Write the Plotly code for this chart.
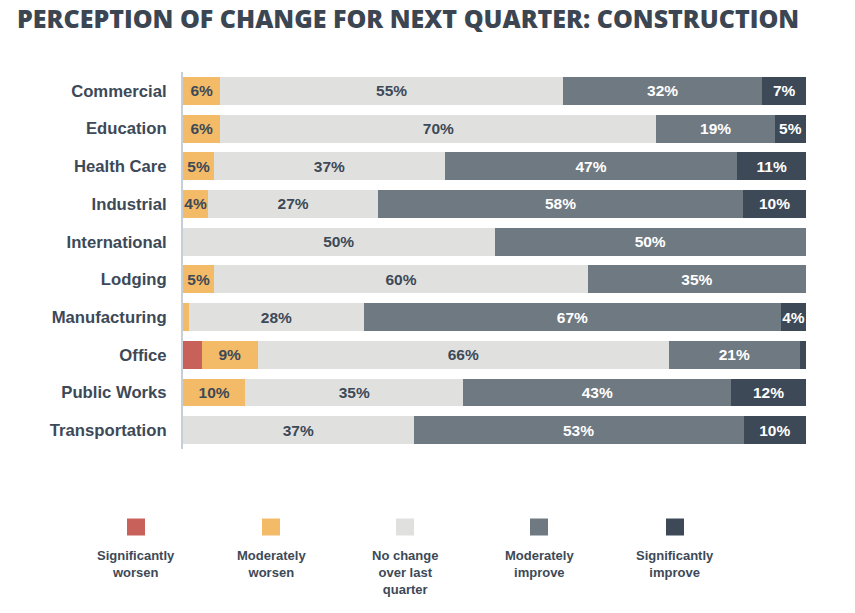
import plotly.graph_objects as go

categories = ["Commercial", "Education", "Health Care", "Industrial", "International",
              "Lodging", "Manufacturing", "Office", "Public Works", "Transportation"]

sig_worsen = [0, 0, 0, 0, 0, 0, 0, 3, 0, 0]
mod_worsen = [6, 6, 5, 4, 0, 5, 1, 9, 10, 0]
no_change = [55, 70, 37, 27, 50, 60, 28, 66, 35, 37]
mod_improve = [32, 19, 47, 58, 50, 35, 67, 21, 43, 53]
sig_improve = [7, 5, 11, 10, 0, 0, 4, 1, 12, 10]

series_names = ["Significantly<br>worsen", "Moderately<br>worsen", "No change<br>over last<br>quarter",
                "Moderately<br>improve", "Significantly<br>improve"]
series_values = [sig_worsen, mod_worsen, no_change, mod_improve, sig_improve]
colors = ["#c9615b", "#f3bb68", "#e0e1df", "#6f7981", "#3d4957"]
text_colors = ["#3d4957", "#3d4957", "#3d4957", "#ffffff", "#ffffff"]
MIN_LABEL = 4

fig = go.Figure()
for name, vals, col, tcol in zip(series_names, series_values, colors, text_colors):
    labels = [f"{v}%" if v >= MIN_LABEL else "" for v in vals]
    fig.add_trace(go.Bar(
        y=categories, x=vals, orientation="h", name=name,
        marker=dict(color=col, line=dict(width=0)),
        text=labels, textposition="inside", insidetextanchor="middle", textangle=0,
        textfont=dict(family="Liberation Sans, Arial", size=15.5, color=tcol, weight="bold"),
        constraintext="none", showlegend=False, hoverinfo="skip",
    ))

fig.update_layout(
    barmode="stack", barnorm="percent", bargap=0.26,
    width=855, height=613,
    margin=dict(l=183, r=49, t=72, b=164),
    plot_bgcolor="white", paper_bgcolor="white",
    title=dict(text="PERCEPTION OF CHANGE FOR NEXT QUARTER: CONSTRUCTION",
               x=17/855, xanchor="left", xref="container",
               y=1 - 19/613, yanchor="middle", yref="container",
               font=dict(family="Open Sans", size=25, color="#3b4652", weight=800)),
    uniformtext=dict(mode=False),
)
fig.update_xaxes(range=[0, 100], visible=False, fixedrange=True)
fig.update_yaxes(autorange="reversed", showline=True, linecolor="#c8ced6", linewidth=2,
                 showgrid=False, ticks="", ticklabelstandoff=11,
                 tickfont=dict(family="Liberation Sans, Arial", size=16.7, color="#3d4957", weight="bold"))

# Legend drawn beneath the chart
leg_x = [136, 271, 405, 539, 675]
for name, col, px in zip(series_names, colors, leg_x):
    fig.add_shape(type="rect", xref="paper", yref="paper",
                  xsizemode="pixel", ysizemode="pixel",
                  xanchor=(px - 183) / 623, yanchor=(449 - 527) / 377,
                  x0=-9, x1=9, y0=-8.5, y1=8.5,
                  fillcolor=col, line=dict(width=0))
    fig.add_annotation(text=name, xref="paper", yref="paper",
                       x=(px - 183) / 623, y=(449 - 546) / 377,
                       xanchor="center", yanchor="top", showarrow=False, align="center",
                       font=dict(family="Liberation Sans, Arial", size=13, color="#3d4957", weight="bold"))

fig.write_html("out.html", config={"displayModeBar": False},
               post_script="document.body.style.margin='0';")
